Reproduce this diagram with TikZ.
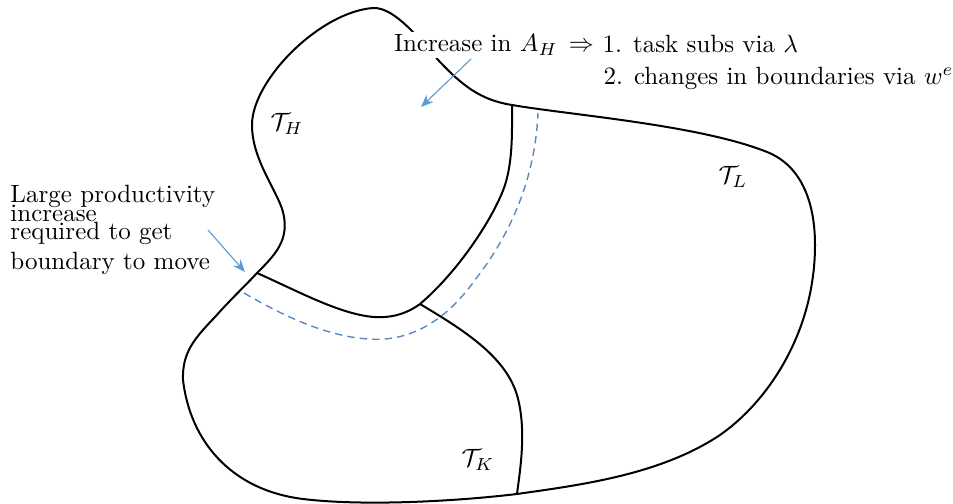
\documentclass[tikz,border=0pt]{standalone}
\usetikzlibrary{arrows.meta}
\definecolor{arrowblue}{RGB}{91,155,213}
\definecolor{dashblue}{RGB}{90,135,190}
\begin{document}
\begin{tikzpicture}[x=0.4pt,y=-0.4pt,
  borderline/.style={line width=0.8pt, black},
  arrowline/.style={arrowblue, line width=0.45pt, -{Stealth[length=5pt,width=4pt]}},
  movedline/.style={dashblue, line width=0.55pt, dash pattern=on 3pt off 2pt},
  setlabel/.style={inner sep=0pt},
  textline/.style={anchor=base west, inner sep=0pt}]
\useasboundingbox (0,0) rectangle (953,504);
\coordinate (JHK) at (257,273);
\coordinate (JHL) at (512,105);
\coordinate (JKL) at (517,494);
\coordinate (JC) at (420,304);

% outer boundary
\draw[borderline] (JHK)
  .. controls (275,255) and (290,240) .. (283,212)
  .. controls (277,190) and (252,160) .. (252,125)
  .. controls (252,80) and (320,12) .. (373,8)
  .. controls (395,7) and (420,40) .. (440,62)
  .. controls (462,85) and (480,100) .. (JHL)
  .. controls (570,115) and (700,125) .. (767,152)
  .. controls (800,165) and (815,200) .. (815,245)
  .. controls (815,330) and (770,400) .. (720,435)
  .. controls (660,475) and (580,485) .. (JKL)
  .. controls (450,502) and (360,506) .. (303,499)
  .. controls (230,490) and (190,440) .. (183,380)
  .. controls (182,352) and (195,338) .. (215,317)
  .. controls (230,300) and (245,286) .. (JHK) -- cycle;

% inner boundaries
\draw[borderline] (JHK) .. controls (300,292) and (350,320) .. (385,317)
  .. controls (400,316) and (412,310) .. (JC);
\draw[borderline] (JC) .. controls (460,270) and (495,215) .. (505,185)
  .. controls (513,160) and (512,130) .. (JHL);
\draw[borderline] (JC) .. controls (460,328) and (505,355) .. (517,395)
  .. controls (527,430) and (520,470) .. (JKL);

% shifted boundary
\draw[movedline] (244,293) .. controls (290,320) and (340,342) .. (385,339)
  .. controls (420,336) and (450,315) .. (475,280)
  .. controls (510,235) and (535,180) .. (538,113);

% texts
\node[anchor=base west, fill=white, inner sep=1pt] (inc) at (391,52) {Increase in $A_H$\hspace{4.5pt}$\Rightarrow$};
\node[textline] (it1) at (602,53) {1. task subs via $\lambda$};
\node[textline] (it2) at (603,85) {2. changes in boundaries via $w^e$};
\node[textline] (lp1) at (10,203) {Large productivity};
\node[textline] (lp2) at (10,222) {increase};
\node[textline] (lp3) at (10,240) {required to get};
\node[textline] (lp4) at (10,270) {boundary to move};

\node[setlabel] (TH) at (287,124) {$\mathcal{T}_H$};
\node[setlabel] (TL) at (733,177) {$\mathcal{T}_L$};
\node[setlabel] (TK) at (478,460) {$\mathcal{T}_K$};

% arrows
\coordinate (a1s) at (471,59);
\coordinate (a1e) at (421,107);
\coordinate (a2s) at (208,230);
\coordinate (a2e) at (245,272);
\draw[arrowline] (a1s) -- (a1e);
\draw[arrowline] (a2s) -- (a2e);
\end{tikzpicture}
\end{document}
